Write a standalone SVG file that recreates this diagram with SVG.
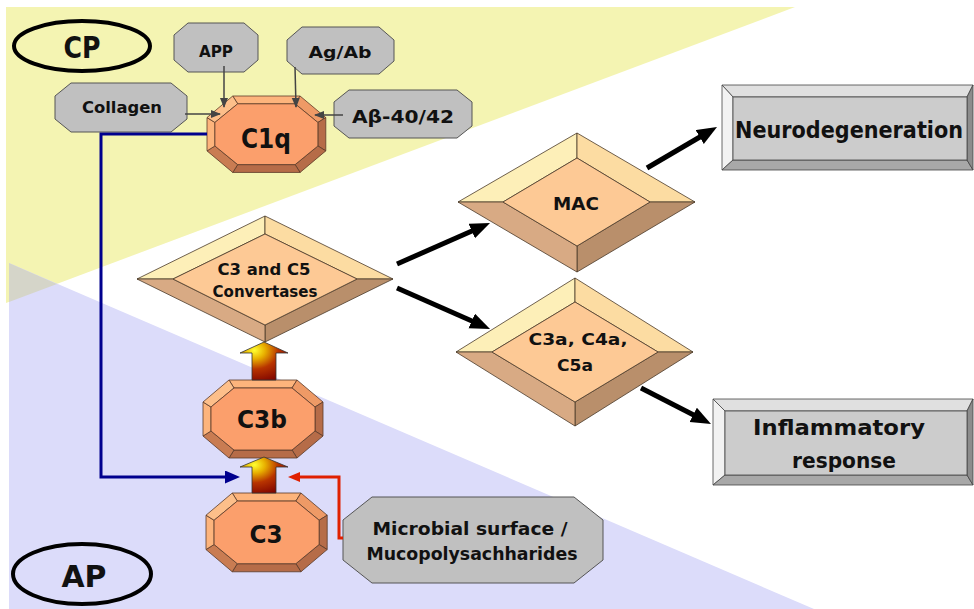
<svg xmlns="http://www.w3.org/2000/svg" xmlns:xlink="http://www.w3.org/1999/xlink" width="974" height="609" viewBox="0 0 974 609">
<style>
text{font-family:"Comic Sans MS","DejaVu Sans",sans-serif;font-weight:bold;fill:#111;text-anchor:middle}
text.cond{font-family:"DejaVu Sans Condensed","DejaVu Sans",sans-serif;font-stretch:condensed}
.g{fill:#c0c0c0;stroke:#555;stroke-width:1}
.bv{stroke:#5a3a28;stroke-width:0.8;stroke-linejoin:round}
.ol{fill:#fdb47c}.otl{fill:#fdbf8a}.otr{fill:#ee9a66}.od{fill:#b66c48}.obl{fill:#c97c52}.of{fill:#fb9f6c}
.d{stroke:#4a3a2a;stroke-width:0.8;stroke-linejoin:round}
.dtl{fill:#fdefb8}.dtr{fill:#fcdca2}.dbr{fill:#b98f6b}.dbl{fill:#d8aa84}.df{fill:#fdc995}
.b{stroke:#444;stroke-width:0.8}
.gt{fill:#e0e0e0}.gl{fill:#f2f2f2}.gb{fill:#a8a8a8}.gr{fill:#8c8c8c}.gf{fill:#cccccc}
.ga{stroke:#444;stroke-width:1.5;fill:none}
.ka{stroke:#000;stroke-width:5;fill:none}
</style>
<defs>
<marker id="mk" markerUnits="userSpaceOnUse" markerWidth="22" markerHeight="18" refX="12" refY="8" orient="auto"><path d="M0,0 L20,8 L0,16 z" fill="#000"/></marker>
<marker id="mg" markerUnits="userSpaceOnUse" markerWidth="12" markerHeight="10" refX="9" refY="4" orient="auto"><path d="M0,0 L10,4 L0,8 z" fill="#444"/></marker>
<marker id="mb" markerUnits="userSpaceOnUse" markerWidth="16" markerHeight="14" refX="6" refY="6.5" orient="auto"><path d="M0,0 L15,6.5 L0,13 z" fill="#00008e"/></marker>
<marker id="mr" markerUnits="userSpaceOnUse" markerWidth="14" markerHeight="12" refX="4" refY="5" orient="auto"><path d="M0,0 L12,5 L0,10 z" fill="#e02000"/></marker>
<radialGradient id="ag" cx="0.3" cy="0.22" r="0.9">
<stop offset="0" stop-color="#ffff30"/>
<stop offset="0.25" stop-color="#e8b000"/>
<stop offset="0.55" stop-color="#b83400"/>
<stop offset="1" stop-color="#7a0000"/>
</radialGradient>
<g id="oct">
<polygon class="bv ol" points="26,0 94,0 89,8 31,8"/>
<polygon class="bv otr" points="94,0 120,22 112,27 89,8"/>
<polygon class="bv od" points="120,22 120,56 112,51 112,27"/>
<polygon class="bv od" points="120,56 94,78 89,70 112,51"/>
<polygon class="bv od" points="94,78 26,78 31,70 89,70"/>
<polygon class="bv obl" points="26,78 0,56 8,51 31,70"/>
<polygon class="bv ol" points="0,56 0,22 8,27 8,51"/>
<polygon class="bv otl" points="0,22 26,0 31,8 8,27"/>
<polygon class="bv of" points="31,8 89,8 112,27 112,51 89,70 31,70 8,51 8,27"/>
</g>
</defs>
<rect x="0" y="0" width="974" height="609" fill="#fff"/>
<polygon points="6,7 795,7 6,303" fill="#f4f4b2"/>
<polygon points="9,263 814,609 9,609" fill="#dcdcfa"/>
<polygon points="9,263 57,284 9,302" fill="#d5d5c9"/>

<g id="cp">
<ellipse cx="82" cy="46" rx="68" ry="25" fill="none" stroke="#000" stroke-width="4"/>
<text x="82" y="58" font-size="30" textLength="37" lengthAdjust="spacingAndGlyphs">CP</text>
</g>
<g id="ap">
<ellipse cx="82" cy="574" rx="69" ry="30" fill="none" stroke="#000" stroke-width="4"/>
<text x="84" y="587" font-size="30" textLength="45" lengthAdjust="spacingAndGlyphs">AP</text>
</g>

<g id="app">
<polygon class="g" points="188,23 244,23 258,35 258,60 244,72 188,72 174,60 174,35"/>
<text x="216" y="57" font-size="16" textLength="34" lengthAdjust="spacingAndGlyphs">APP</text>
</g>
<g id="agab">
<polygon class="g" points="302,27 379,27 394,40 394,61 379,74 302,74 287,61 287,40"/>
<text x="340" y="58" font-size="16" textLength="63" lengthAdjust="spacingAndGlyphs">Ag/Ab</text>
</g>
<g id="collagen">
<polygon class="g" points="71,83 171,83 187,96 187,119 171,132 71,132 55,119 55,96"/>
<text x="122" y="113" font-size="16" textLength="80" lengthAdjust="spacingAndGlyphs">Collagen</text>
</g>
<g id="abeta">
<polygon class="g" points="349,90 457,90 472,102 472,126 457,138 349,138 334,126 334,102"/>
<text x="403" y="123" font-size="17" textLength="102" lengthAdjust="spacingAndGlyphs">Aβ-40/42</text>
</g>

<g id="c1q">
<use xlink:href="#oct" transform="translate(207,96) scale(0.99,0.98)"/>
<text x="266" y="148" font-size="26" textLength="50" lengthAdjust="spacingAndGlyphs">C1q</text>
</g>

<g id="convertases">
<polygon class="d dtl" points="137,279 265,216 265,234 173,279"/>
<polygon class="d dtr" points="265,216 393,279 357,279 265,234"/>
<polygon class="d dbr" points="393,279 265,342 265,325 357,279"/>
<polygon class="d dbl" points="265,342 137,279 173,279 265,325"/>
<polygon class="d df" points="173,279 265,234 357,279 265,325"/>
<text x="264" y="275" font-size="15" textLength="93" lengthAdjust="spacingAndGlyphs">C3 and C5</text>
<text x="265" y="297" font-size="15" textLength="105" lengthAdjust="spacingAndGlyphs">Convertases</text>
</g>

<g id="mac">
<polygon class="d dtl" points="458,202 577,133 577,158 503,202"/>
<polygon class="d dtr" points="577,133 695,202 650,202 577,158"/>
<polygon class="d dbr" points="695,202 577,272 577,246 650,202"/>
<polygon class="d dbl" points="577,272 458,202 503,202 577,246"/>
<polygon class="d df" points="503,202 577,158 650,202 577,246"/>
<text x="576" y="210" font-size="17" textLength="46" lengthAdjust="spacingAndGlyphs">MAC</text>
</g>

<g id="c3a">
<polygon class="d dtl" points="456,352 575,278 575,302 492,352"/>
<polygon class="d dtr" points="575,278 693,352 658,352 575,302"/>
<polygon class="d dbr" points="693,352 575,426 575,402 658,352"/>
<polygon class="d dbl" points="575,426 456,352 492,352 575,402"/>
<polygon class="d df" points="492,352 575,302 658,352 575,402"/>
<text x="578" y="345" font-size="16" textLength="99" lengthAdjust="spacingAndGlyphs">C3a, C4a,</text>
<text x="575" y="371" font-size="16" textLength="36" lengthAdjust="spacingAndGlyphs">C5a</text>
</g>

<g id="neuro">
<polygon class="b gt" points="722,85 973,85 967,97 733,97"/>
<polygon class="b gl" points="722,85 733,97 733,160 722,170"/>
<polygon class="b gb" points="722,170 733,160 967,160 973,170"/>
<polygon class="b gr" points="973,85 973,170 967,160 967,97"/>
<rect class="b gf" x="733" y="97" width="234" height="63"/>
<text class="cond" x="849" y="138" font-size="23" textLength="228" lengthAdjust="spacingAndGlyphs">Neurodegeneration</text>
</g>

<g id="inflam">
<polygon class="b gt" points="713,399 973,399 967,411 725,411"/>
<polygon class="b gl" points="713,399 725,411 725,475 713,485"/>
<polygon class="b gb" points="713,485 725,475 967,475 973,485"/>
<polygon class="b gr" points="973,399 973,485 967,475 967,411"/>
<rect class="b gf" x="725" y="411" width="242" height="64"/>
<text x="839" y="435" font-size="22" textLength="172" lengthAdjust="spacingAndGlyphs">Inflammatory</text>
<text x="844" y="468" font-size="22" textLength="104" lengthAdjust="spacingAndGlyphs">response</text>
</g>

<g id="c3b">
<use xlink:href="#oct" x="203" y="380"/>
<text x="262" y="428" font-size="24" textLength="50" lengthAdjust="spacingAndGlyphs">C3b</text>
</g>
<g id="c3">
<use xlink:href="#oct" transform="translate(206,493) scale(1.01,1.01)"/>
<text x="266" y="543" font-size="24" textLength="33" lengthAdjust="spacingAndGlyphs">C3</text>
</g>

<g id="microbial">
<polygon class="g" points="372,497 574,497 603,520 603,560 574,583 372,583 343,560 343,520"/>
<text x="470" y="535" font-size="17" textLength="195" lengthAdjust="spacingAndGlyphs">Microbial surface /</text>
<text x="472" y="560" font-size="17" textLength="211" lengthAdjust="spacingAndGlyphs">Mucopolysachharides</text>
</g>

<g id="connectors">
<line class="ga" x1="224" y1="66" x2="224" y2="107" marker-end="url(#mg)"/>
<line class="ga" x1="295" y1="67" x2="296" y2="107" marker-end="url(#mg)"/>
<line class="ga" x1="185" y1="114" x2="220" y2="114" marker-end="url(#mg)"/>
<line class="ga" x1="343" y1="115" x2="315" y2="115" marker-end="url(#mg)"/>
<path d="M207,134 H101 V477 H231" fill="none" stroke="#00008e" stroke-width="3" marker-end="url(#mb)"/>
<path d="M343,538 H339 V477 H296" fill="none" stroke="#e02000" stroke-width="3" marker-end="url(#mr)"/>
<line class="ka" x1="397" y1="264" x2="482.7" y2="226.2" marker-end="url(#mk)"/>
<line class="ka" x1="397" y1="288" x2="482.7" y2="325.8" marker-end="url(#mk)"/>
<line class="ka" x1="647" y1="168" x2="710.1" y2="131" marker-end="url(#mk)"/>
<line class="ka" x1="641" y1="388" x2="703.9" y2="420.3" marker-end="url(#mk)"/>
<path d="M264,342 L288,353 L276,353 L276,380 L252,380 L252,353 L240,353 Z" fill="url(#ag)" stroke="#333" stroke-width="0.8"/>
<path d="M264,457 L288,467 L276,467 L276,493 L252,493 L252,467 L240,467 Z" fill="url(#ag)" stroke="#333" stroke-width="0.8"/>
</g>
</svg>
